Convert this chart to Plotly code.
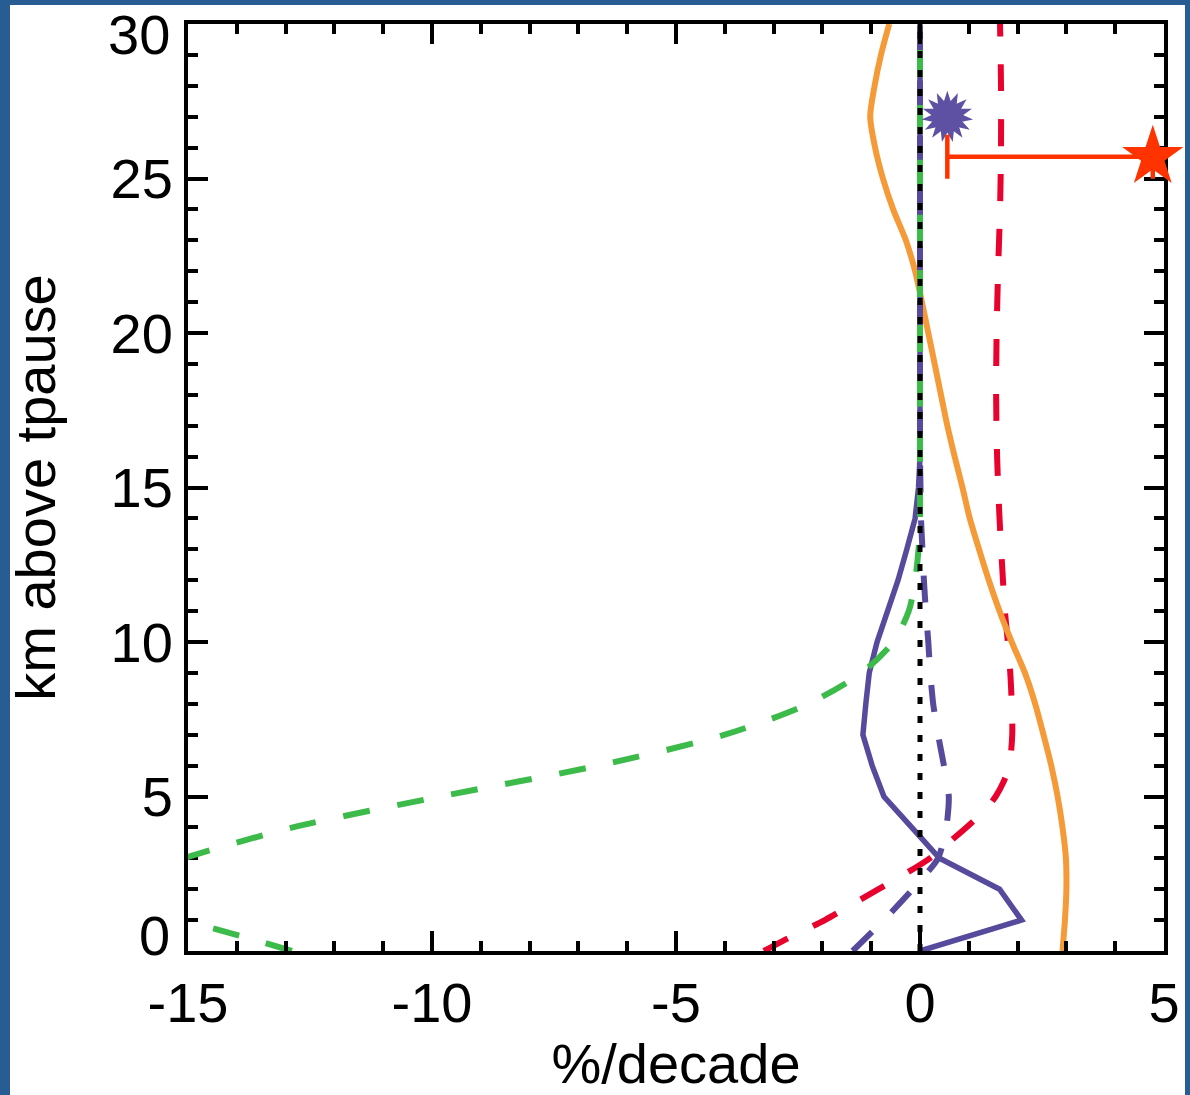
import plotly.graph_objects as go

# ---- profile data: altitude above the tropopause (km) vs trend (%/decade) ----
alt_orange = list(range(0, 31))
orange_trend = [2.92, 2.97, 3.0, 2.99, 2.92, 2.82, 2.69, 2.53, 2.36, 2.15, 1.88,
                1.63, 1.41, 1.21, 1.02, 0.87, 0.71, 0.56, 0.43, 0.3, 0.17,
                0.04, -0.1, -0.29, -0.55, -0.76, -0.92, -1.02, -0.93, -0.8, -0.63]

alt_red = [0, 0.5, 1, 1.5, 2, 2.5, 3, 3.5, 4, 4.5, 5, 5.5, 6, 7, 8, 9, 10, 11,
           12, 14, 16, 18, 20, 22, 24, 26, 28, 30]
red_trend = [-3.2, -2.6, -1.95, -1.4, -0.85, -0.3, 0.2, 0.58, 0.95, 1.3, 1.55,
             1.72, 1.83, 1.89, 1.88, 1.85, 1.8, 1.74, 1.7, 1.63, 1.58, 1.56,
             1.57, 1.6, 1.64, 1.66, 1.66, 1.64]

alt_purple = list(range(0, 31))
purple_solid = [0.0, 2.08, 1.63, 0.4, -0.17, -0.74, -0.98, -1.17, -1.11, -1.04,
                -0.88, -0.67, -0.45, -0.27, -0.1, -0.03] + [0.0] * 15
purple_dash = [-1.38, -0.74, -0.15, 0.37, 0.54, 0.59, 0.49, 0.37, 0.27, 0.21,
               0.17, 0.12, 0.08, 0.05, 0.02, 0.01] + [0.0] * 15

alt_green = [0, 0.5, 1, 1.5, 2, 2.5, 3, 4, 5, 6, 7, 8, 9, 10, 11, 12, 13] + list(range(14, 31))
green_trend = [-12.87, -13.95, -15.1, -16.1, -16.6, -16.1, -15.1, -12.85, -9.83,
               -6.59, -4.0, -2.29, -1.2, -0.55, -0.23, -0.1, -0.03] + [0.0] * 17

zero_x = [0, 0]
zero_y = [0, 30]

# observed trends (single points)
burst_x = [0.56]
burst_y = [27.0]
star_x = [4.77]
star_y = [25.7]
star_err_minus = [4.21]

x_ticks = [-15, -10, -5, 0, 5]
x_ticktext = ["-15", "-10", "-5", "0", "5"]
y_ticks = [0, 5, 10, 15, 20, 25, 30]
y_ticktext = ["0", "5", "10", "15", "20", "25", "30"]

# ---- styling ----
FONT = "Liberation Sans, Arial, Helvetica, sans-serif"
FRAME = "#275D92"
ORANGE = "#F59A38"
RED = "#E8022E"
PURPLE = "#554A9C"
GREEN = "#3DBB4A"
STAR_RED = "#FF3300"
DASH = "27px,28px"

fig = go.Figure()

fig.add_trace(go.Scatter(x=red_trend, y=alt_red, mode="lines",
                         line=dict(color=RED, width=6, dash=DASH, shape="spline", smoothing=0.8)))
fig.add_trace(go.Scatter(x=orange_trend, y=alt_orange, mode="lines",
                         line=dict(color=ORANGE, width=6, shape="spline", smoothing=0.8)))
fig.add_trace(go.Scatter(x=purple_solid, y=alt_purple, mode="lines",
                         line=dict(color=PURPLE, width=5.5)))
fig.add_trace(go.Scatter(x=purple_dash, y=alt_purple, mode="lines",
                         line=dict(color=PURPLE, width=6, dash=DASH, shape="spline", smoothing=0.6)))
fig.add_trace(go.Scatter(x=green_trend, y=alt_green, mode="lines",
                         line=dict(color=GREEN, width=6, dash=DASH, shape="spline", smoothing=0.8)))
fig.add_trace(go.Scatter(x=zero_x, y=zero_y, mode="lines",
                         line=dict(color="black", width=5, dash="7px,12px")))

# purple burst: three five-point stars, rotated, make a spiky starburst
for ang in (0, 24, 48):
    fig.add_trace(go.Scatter(x=burst_x, y=burst_y, mode="markers", cliponaxis=False,
                             marker=dict(symbol="star", size=37, angle=ang,
                                         color="#5E51A3", line=dict(width=0))))

# red star with one-sided horizontal error bar
fig.add_trace(go.Scatter(x=star_x, y=star_y, mode="markers", cliponaxis=False,
                         marker=dict(symbol="star", size=46, color=STAR_RED, line=dict(width=0)),
                         error_x=dict(type="data", symmetric=False, array=[0],
                                      arrayminus=star_err_minus, color=STAR_RED,
                                      thickness=4.5, width=22)))

# plot-area geometry in pixels
W, H = 1190, 1095
ML, MR, MT, MB = 188, 26, 24, 143.5
PW, PH = W - ML - MR, H - MT - MB

def px_x(px):
    return (px - ML) / PW

def px_y(py):
    return (H - MB - py) / PH

# white panel inside the blue frame
fig.add_shape(type="rect", xref="paper", yref="paper", layer="below",
              x0=px_x(10), x1=px_x(1185), y0=px_y(1100), y1=px_y(5),
              fillcolor="white", line=dict(width=0))

axis_common = dict(
    showline=True, linewidth=4, linecolor="black", mirror="allticks",
    ticks="inside", ticklen=20, tickwidth=4, tickcolor="black",
    showgrid=False, zeroline=False,
    tickfont=dict(family=FONT, size=56, color="black"),
)

fig.update_xaxes(range=[-15, 5], tickmode="array", tickvals=x_ticks, ticktext=x_ticktext,
                 minor=dict(tick0=0, dtick=1, ticks="inside", ticklen=10, tickwidth=4,
                            tickcolor="black", showgrid=False),
                 title=dict(text="%/decade", font=dict(family=FONT, size=56, color="black"),
                            standoff=12),
                 **axis_common)

# end labels of the altitude axis sit inside the frame, drawn as annotations
y_axis_text = [t if v not in (0, 30) else "" for v, t in zip(y_ticks, y_ticktext)]
fig.update_yaxes(range=[0, 30], tickmode="array", tickvals=y_ticks, ticktext=y_axis_text,
                 minor=dict(tick0=0, dtick=1, ticks="inside", ticklen=10, tickwidth=4,
                            tickcolor="black", showgrid=False),
                 title=dict(text="km above tpause", font=dict(family=FONT, size=56, color="black"),
                            standoff=38),
                 layer="below traces",
                 **axis_common)

for v, t, shift in ((0, y_ticktext[0], 16), (30, y_ticktext[-1], -10)):
    fig.add_annotation(x=0, xref="paper", y=v, yref="y", text=t, showarrow=False,
                       xanchor="right", yanchor="middle", xshift=-16, yshift=shift,
                       font=dict(family=FONT, size=56, color="black"))

fig.update_layout(width=W, height=H, autosize=False,
                  margin=dict(l=ML, r=MR, t=MT, b=MB, autoexpand=False),
                  paper_bgcolor=FRAME, plot_bgcolor="white", showlegend=False)

fig.write_html("out.html")
